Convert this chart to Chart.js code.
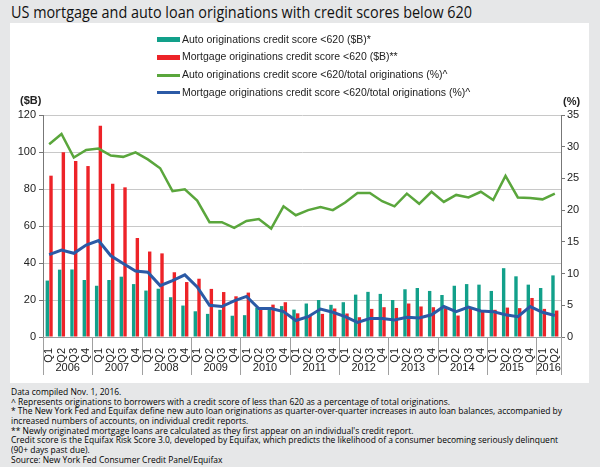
<!DOCTYPE html>
<html>
<head>
<meta charset="utf-8">
<script src="https://cdn.jsdelivr.net/npm/chart.js@4.4.1/dist/chart.umd.min.js"></script>
<style>
  html, body { margin: 0; padding: 0; }
  body { width: 600px; height: 467px; background: #e6e7e8; position: relative; overflow: hidden; font-family: "Open Sans", sans-serif; }
  #title { position: absolute; left: 11px; top: 4px; font-size: 16px; line-height: 16px; color: #111; white-space: nowrap; transform-origin: 0 0; }
  #panel { position: absolute; left: 10px; top: 23px; width: 579px; height: 360px; background: #fff; }
  #chartWrap { position: absolute; left: 0; top: 0; width: 579px; height: 360px; }
  .leg { position: absolute; left: 147px; height: 14px; line-height: 14px; font: 10.5px "Liberation Sans", Arial, sans-serif; color: #222; white-space: nowrap; }
  .leg i { display: inline-block; width: 23px; vertical-align: middle; margin-right: 2px; }
  .unit { position: absolute; font: bold 11px "Liberation Sans", Arial, sans-serif; color: #222; }
  #notes { position: absolute; left: 11px; top: 387px; font-size: 9.5px; line-height: 9.67px; color: #000; white-space: nowrap; transform-origin: 0 0; }
</style>
</head>
<body>
<div id="title">US mortgage and auto loan originations with credit scores below 620</div>
<div id="panel">
  <div id="chartWrap"><canvas id="loanChart" width="579" height="360"></canvas></div>
  <div id="legend"></div>
  <div class="unit" style="left:10px;top:71px;">($B)</div>
  <div class="unit" style="left:553px;top:72px;">(%)</div>
</div>
<div id="notes">
Data compiled Nov. 1, 2016.<br>
^ Represents originations to borrowers with a credit score of less than 620 as a percentage of total originations.<br>
* The New York Fed and Equifax define new auto loan originations as quarter-over-quarter increases in auto loan balances, accompanied by<br>
increased numbers of accounts, on individual credit reports.<br>
** Newly originated mortgage loans are calculated as they first appear on an individual's credit report.<br>
Credit score is the Equifax Risk Score 3.0, developed by Equifax, which predicts the likelihood of a consumer becoming seriously delinquent<br>
(90+ days past due).<br>
Source: New York Fed Consumer Credit Panel/Equifax
</div>

<script>
// quarters 2006 Q1 .. 2016 Q2
const years = ['2006', '2007', '2008', '2009', '2010', '2011', '2012', '2013', '2014', '2015', '2016'];
const quarters = [];
years.forEach((y) => {
  const n = y === '2016' ? 2 : 4;
  for (let q = 1; q <= n; q++) quarters.push('Q' + q);
});

// $B
const autoSubprime = [
  30.5, 36.4, 36.5, 30.8, 27.7, 30.8, 32.6, 28.6,
  25.1, 26.1, 21.5, 17.0, 13.9, 12.5, 14.7, 11.5,
  11.8, 15.9, 15.6, 16.7, 14.8, 18.1, 20.0, 17.4,
  18.8, 22.9, 24.4, 23.3, 20.0, 25.8, 26.5, 24.9,
  22.7, 27.7, 28.6, 28.3, 24.9, 37.2, 32.8, 28.3,
  26.5, 33.3
];
const mortgageSubprime = [
  87.2, 99.8, 95.1, 92.4, 114.2, 82.8, 80.9, 53.5,
  46.2, 45.2, 35.0, 29.7, 31.5, 26.0, 24.3, 22.0,
  24.0, 15.9, 17.5, 18.8, 12.8, 11.4, 12.5, 15.4,
  12.7, 10.7, 15.2, 16.1, 15.7, 18.1, 16.5, 16.1,
  15.6, 11.6, 15.6, 13.8, 14.7, 15.9, 15.6, 21.1,
  15.2, 14.3
];
// % of total originations
const autoShare = [
  30.4, 32.0, 28.3, 29.5, 29.7, 28.6, 28.4, 29.1,
  28.0, 26.6, 23.0, 23.3, 21.5, 18.1, 18.1, 17.2,
  18.3, 18.6, 17.1, 20.6, 19.2, 20.0, 20.5, 20.0,
  21.2, 22.7, 22.7, 21.4, 20.6, 22.6, 21.0, 22.9,
  21.3, 22.4, 22.0, 22.9, 21.6, 25.4, 22.0, 21.9,
  21.7, 22.6
];
const mortgageShare = [
  13.0, 13.7, 13.2, 14.5, 15.2, 12.8, 11.6, 10.4,
  10.2, 8.1, 8.9, 9.8, 7.9, 5.0, 4.8, 5.7,
  6.4, 4.5, 4.5, 4.0, 2.6, 3.2, 4.4, 3.9,
  3.2, 2.3, 2.9, 2.9, 2.7, 3.1, 3.0, 3.5,
  4.8, 4.0, 4.7, 4.1, 4.0, 3.5, 3.2, 4.8,
  3.9, 3.4
];

const seriesNames = [
  'Auto originations credit score <620 ($B)*',
  'Mortgage originations credit score <620 ($B)**',
  'Auto originations credit score <620/total originations (%)^',
  'Mortgage originations credit score <620/total originations (%)^'
];
const leftTicks = [0, 20, 40, 60, 80, 100, 120];
const rightTicks = [0, 5, 10, 15, 20, 25, 30, 35];

const colors = ['#12a08a', '#ed2328', '#5aa63c', '#2b5aa6'];

// legend
const legendEl = document.getElementById('legend');
seriesNames.forEach((name, i) => {
  const row = document.createElement('div');
  row.className = 'leg';
  row.style.top = (9.5 + i * 17.7) + 'px';
  const h = i < 2 ? 5 : 3;
  row.innerHTML = '<i style="height:' + h + 'px;background:' + colors[i] + '"></i>' + name;
  legendEl.appendChild(row);
});

// squeeze title / notes into the reference widths
function fitWidth(el, w) {
  const s = w / el.getBoundingClientRect().width;
  el.style.transform = 'scaleX(' + s + ')';
}
fitWidth(document.getElementById('title'), 461);
fitWidth(document.getElementById('notes'), 551);

const tickFont = { family: '"Liberation Sans", Arial, sans-serif', size: 11 };

// years under the quarter labels, with separator lines
const yearAxis = {
  id: 'yearAxis',
  afterDraw(chart) {
    const ctx = chart.ctx;
    const x = chart.scales.x;
    const step = x.getPixelForValue(1) - x.getPixelForValue(0);
    const top = chart.chartArea.bottom;
    ctx.save();
    ctx.strokeStyle = '#a0a0a0';
    ctx.lineWidth = 1;
    ctx.fillStyle = '#222';
    ctx.font = '11px "Liberation Sans", Arial, sans-serif';
    ctx.textAlign = 'center';
    ctx.textBaseline = 'middle';
    let idx = 0;
    years.forEach((y) => {
      const n = y === '2016' ? 2 : 4;
      const x0 = x.getPixelForValue(idx) - step / 2;
      const x1 = x.getPixelForValue(idx + n - 1) + step / 2;
      ctx.beginPath();
      ctx.moveTo(Math.round(x0) + 0.5, top);
      ctx.lineTo(Math.round(x0) + 0.5, top + 38);
      ctx.stroke();
      ctx.fillText(y, (x0 + x1) / 2, top + 31);
      idx += n;
    });
    const xe = x.getPixelForValue(idx - 1) + step / 2;
    ctx.beginPath();
    ctx.moveTo(Math.round(xe) + 0.5, top);
    ctx.lineTo(Math.round(xe) + 0.5, top + 38);
    ctx.stroke();
    ctx.restore();
  }
};

new Chart(document.getElementById('loanChart').getContext('2d'), {
  data: {
    labels: quarters,
    datasets: [
      {
        type: 'line', label: seriesNames[3], data: mortgageShare, yAxisID: 'y1',
        borderColor: colors[3], borderWidth: 3, pointRadius: 0, tension: 0, order: 0,
      },
      {
        type: 'line', label: seriesNames[2], data: autoShare, yAxisID: 'y1',
        borderColor: colors[2], borderWidth: 2.5, pointRadius: 0, tension: 0, order: 0,
      },
      {
        type: 'bar', label: seriesNames[0], data: autoSubprime, yAxisID: 'y',
        backgroundColor: colors[0], categoryPercentage: 0.6, barPercentage: 0.92, order: 1,
      },
      {
        type: 'bar', label: seriesNames[1], data: mortgageSubprime, yAxisID: 'y',
        backgroundColor: colors[1], categoryPercentage: 0.6, barPercentage: 0.92, order: 1,
      },
    ],
  },
  options: {
    responsive: false,
    animation: false,
    layout: { padding: { top: 92, left: 0, right: 0, bottom: 0 } },
    plugins: { legend: { display: false }, tooltip: { enabled: false } },
    scales: {
      x: {
        grid: { display: false },
        border: { display: true, color: '#9a9a9a' },
        ticks: {
          font: tickFont, color: '#222', maxRotation: 90, minRotation: 90,
          autoSkip: false, padding: 3,
        },
        afterFit(scale) { scale.height = 46; },
      },
      y: {
        position: 'left', min: 0, max: 120,
        afterBuildTicks(scale) { scale.ticks = leftTicks.map((v) => ({ value: v })); },
        grid: {
          color: '#c8c8c8', borderDash: [2, 2], tickLength: 4,
          tickColor: '#777', tickBorderDash: [],
        },
        border: { display: true, color: '#777' },
        ticks: { font: tickFont, color: '#222', padding: 3 },
        afterFit(scale) { scale.width = 33; },
      },
      y1: {
        position: 'right', min: 0, max: 35,
        afterBuildTicks(scale) { scale.ticks = rightTicks.map((v) => ({ value: v })); },
        grid: { drawOnChartArea: false, tickLength: 4, tickColor: '#777' },
        border: { display: true, color: '#777' },
        ticks: { font: tickFont, color: '#222', padding: 2 },
        afterFit(scale) { scale.width = 28; },
      },
    },
  },
  plugins: [yearAxis],
});
</script>
</body>
</html>
